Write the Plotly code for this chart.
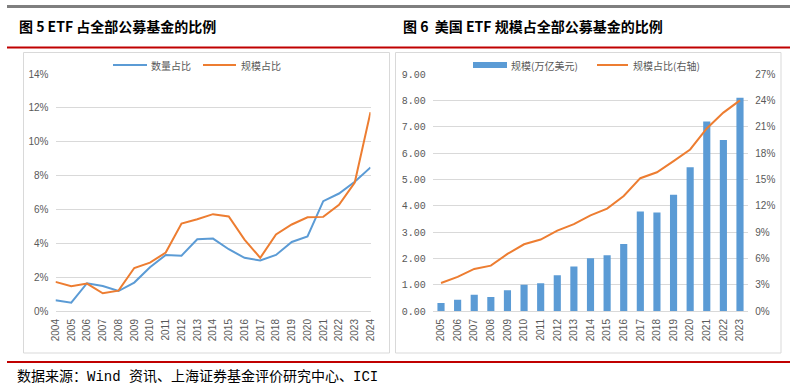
import plotly.graph_objects as go

# ---------- data ----------
years_left = [str(y) for y in range(2004, 2025)]
count_share = [0.63, 0.49, 1.64, 1.48, 1.18, 1.68, 2.58, 3.31, 3.27, 4.24, 4.28,
               3.65, 3.14, 2.98, 3.31, 4.08, 4.40, 6.49, 6.94, 7.63, 8.48]
scale_share = [1.72, 1.46, 1.62, 1.05, 1.20, 2.54, 2.86, 3.45, 5.17, 5.42, 5.72,
               5.58, 4.22, 3.14, 4.52, 5.11, 5.54, 5.56, 6.27, 7.59, 11.74]

years_right = [str(y) for y in range(2005, 2024)]
us_scale = [0.30, 0.43, 0.62, 0.53, 0.79, 1.00, 1.05, 1.36, 1.69, 2.00,
            2.12, 2.54, 3.78, 3.74, 4.41, 5.46, 7.20, 6.49, 8.10]
us_share = [3.19, 3.88, 4.79, 5.17, 6.50, 7.60, 8.14, 9.16, 9.89, 10.9,
            11.67, 13.1, 15.13, 15.8, 17.07, 18.4, 20.8, 22.6, 24.0]

left_ticks = [0, 2, 4, 6, 8, 10, 12, 14]
right_ticks = [0, 1, 2, 3, 4, 5, 6, 7, 8, 9]
right2_ticks = [0, 3, 6, 9, 12, 15, 18, 21, 24, 27]

BLUE = "#5B9BD5"
ORANGE = "#ED7D31"
GRID = "#D9D9D9"
TICK = "#595959"
CJK = "Noto Sans CJK SC"

W, H = 793, 392


def px(x):
    return x / W


def py(y):
    return 1 - y / H


fig = go.Figure()

fig.add_trace(go.Scatter(x=years_left, y=count_share, mode="lines", name="数量占比",
                         line=dict(color=BLUE, width=2), xaxis="x", yaxis="y",
                         showlegend=False))
fig.add_trace(go.Scatter(x=years_left, y=scale_share, mode="lines", name="规模占比",
                         line=dict(color=ORANGE, width=2), xaxis="x", yaxis="y",
                         showlegend=False))

fig.add_trace(go.Bar(x=years_right, y=us_scale, name="规模(万亿美元)",
                     marker=dict(color=BLUE, line=dict(width=0)),
                     xaxis="x2", yaxis="y2", showlegend=False))
fig.add_trace(go.Scatter(x=years_right, y=us_share, mode="lines", name="规模占比(右轴)",
                         line=dict(color=ORANGE, width=2), xaxis="x2", yaxis="y3",
                         showlegend=False))

tickfont = dict(family="Liberation Sans, Arial", size=10, color=TICK)

fig.update_layout(
    width=W, height=H,
    margin=dict(l=0, r=0, t=0, b=0, autoexpand=False),
    paper_bgcolor="white", plot_bgcolor="white",
    bargap=0.57,
    xaxis=dict(domain=[px(55.5), px(370.5)], anchor="y", type="category",
               tickangle=-90, tickfont=tickfont, showgrid=False, automargin=False,
               showline=True, linecolor=GRID, linewidth=1, ticks="",
               ticklabelstandoff=3),
    yaxis=dict(domain=[py(311), py(74)], anchor="x", range=[0, 14], automargin=False,
               tickvals=left_ticks, ticktext=[f"{v}%" for v in left_ticks],
               tickfont=tickfont, showgrid=True, gridcolor=GRID, gridwidth=1,
               zeroline=False, showline=False, ticks="", ticklabelstandoff=6),
    xaxis2=dict(domain=[px(432.7), px(748.3)], anchor="y2", type="category",
                tickangle=-90, tickfont=tickfont, showgrid=False, automargin=False,
                showline=True, linecolor=GRID, linewidth=1, ticks="",
                ticklabelstandoff=3),
    yaxis2=dict(domain=[py(311), py(74)], anchor="x2", range=[0, 9], automargin=False,
                tickvals=right_ticks, ticktext=[f"{v:.2f}" for v in right_ticks],
                tickfont=dict(family="Liberation Mono, DejaVu Sans Mono", size=10, color=TICK),
                showgrid=True, gridcolor=GRID, gridwidth=1,
                zeroline=False, showline=False, ticks="", ticklabelstandoff=6),
    yaxis3=dict(overlaying="y2", side="right", anchor="x2", range=[0, 27],
                automargin=False,
                tickvals=right2_ticks, ticktext=[f"{v}%" for v in right2_ticks],
                tickfont=tickfont, showgrid=False, zeroline=False,
                showline=False, ticks="", ticklabelstandoff=6),
)

shapes = []
# top gray rule
shapes.append(dict(type="rect", xref="paper", yref="paper", x0=px(7), x1=px(790),
                   y0=py(8), y1=py(5), fillcolor="#7F7F7F",
                   line=dict(width=0), layer="above"))
# red rule under titles
shapes.append(dict(type="line", xref="paper", yref="paper", x0=px(7), x1=px(790),
                   y0=py(47.5), y1=py(47.5), line=dict(color="#C00000", width=2)))
# red rule above source
shapes.append(dict(type="line", xref="paper", yref="paper", x0=px(7), x1=px(790),
                   y0=py(362), y1=py(362), line=dict(color="#C00000", width=2)))
# panel boxes
shapes.append(dict(type="rect", xref="paper", yref="paper", x0=px(23.5), x1=px(389.5),
                   y0=py(353), y1=py(52.5), line=dict(color="#D9D9D9", width=1)))
shapes.append(dict(type="rect", xref="paper", yref="paper", x0=px(395.5), x1=px(781),
                   y0=py(353), y1=py(52.5), line=dict(color="#D9D9D9", width=1)))
# legend samples
shapes.append(dict(type="line", xref="paper", yref="paper", x0=px(113), x1=px(147),
                   y0=py(65), y1=py(65), line=dict(color=BLUE, width=2)))
shapes.append(dict(type="line", xref="paper", yref="paper", x0=px(203), x1=px(236),
                   y0=py(65), y1=py(65), line=dict(color=ORANGE, width=2)))
shapes.append(dict(type="rect", xref="paper", yref="paper", x0=px(473), x1=px(507),
                   y0=py(68), y1=py(62), fillcolor=BLUE, line=dict(width=0)))
shapes.append(dict(type="line", xref="paper", yref="paper", x0=px(597), x1=px(628),
                   y0=py(65), y1=py(65), line=dict(color=ORANGE, width=2)))
fig.update_layout(shapes=shapes)

legfont = dict(family=CJK, size=10, color=TICK)


def ann(text, x, y, font):
    return dict(text=text, x=px(x), y=py(y), xref="paper", yref="paper",
                xanchor="left", yanchor="middle", showarrow=False, font=font)


annotations = [
    # top gray rule drawn again as a filled annotation box (fallback)
    dict(text="", x=px(7), y=py(4.5), xref="paper", yref="paper",
         xanchor="left", yanchor="top", showarrow=False, width=783, height=3,
         bgcolor="#7F7F7F", borderpad=0, borderwidth=0, font=dict(size=1)),
    ann("<b>图 5 ETF 占全部公募基金的比例</b>", 17, 26,
        dict(family=CJK, size=14, color="black")),
    ann("<b>图 6  美国 ETF 规模占全部公募基金的比例</b>", 401, 26,
        dict(family=CJK, size=14, color="black")),
    ann("数量占比", 149, 65, legfont),
    ann("规模占比", 239, 65, legfont),
    ann("规模(万亿美元)", 509, 65, legfont),
    ann("规模占比(右轴)", 631, 65, legfont),
    ann("数据来源：Wind 资讯、上海证券基金评价研究中心、ICI", 15, 376,
        dict(family="Liberation Mono, " + CJK, size=14, color="black")),
]
fig.update_layout(annotations=annotations)

fig.write_html("out.html",
               config={"displayModeBar": False},
               post_script="document.body.style.margin='0';")
